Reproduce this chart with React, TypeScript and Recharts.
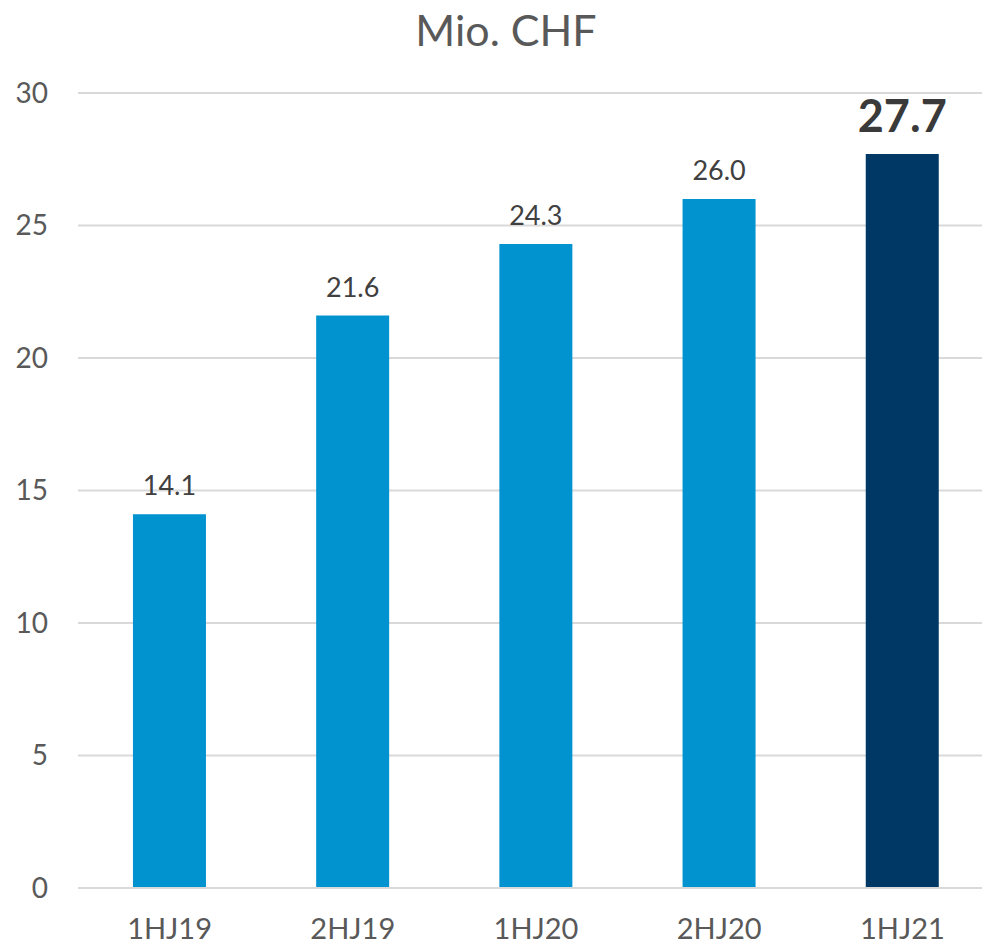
import { Bar, BarChart, CartesianGrid, Cell, LabelList, XAxis, YAxis } from "recharts"

const periods = ["1HJ19", "2HJ19", "1HJ20", "2HJ20", "1HJ21"]
const values = [14.1, 21.6, 24.3, 26.0, 27.7]
const yTicks = [0, 5, 10, 15, 20, 25, 30]

const data = periods.map((p, i) => ({ period: p, value: values[i] }))

const FONT = "Lato, 'Open Sans', sans-serif"

const renderLabel = (props: any) => {
  const { x, y, width, value, index } = props
  const last = index === values.length - 1
  return (
    <text
      x={x + width / 2}
      y={y - (last ? 22 : 19)}
      textAnchor="middle"
      fontFamily={FONT}
      fontSize={last ? 45 : 27}
      fontWeight={last ? 700 : 400}
      fill={last ? "#3a3a3a" : "#404040"}
    >
      {value.toFixed(1)}
    </text>
  )
}

export default function App() {
  return (
    <div style={{ position: "fixed", top: 0, left: 0, width: 982, height: 946, overflow: "hidden", background: "#fff" }}>
      <div
        style={{
          position: "absolute",
          top: 2,
          left: 306,
          width: 400,
          textAlign: "center",
          fontFamily: FONT,
          fontSize: 43,
          color: "#595959",
          lineHeight: "56px",
        }}
      >
        Mio. CHF
      </div>
      <BarChart
        width={994}
        height={946}
        data={data}
        margin={{ top: 93, right: 0, bottom: 0, left: 0 }}
        barCategoryGap="30%"
      >
        <CartesianGrid vertical={false} stroke="#d9d9d9" strokeWidth={2} />
        <XAxis
          dataKey="period"
          height={58}
          axisLine={{ stroke: "#d9d9d9", strokeWidth: 2 }}
          tickLine={false}
          tickMargin={24}
          tick={{ fontFamily: FONT, fontSize: 29, fill: "#595959" }}
        />
        <YAxis
          width={78}
          domain={[0, 30]}
          ticks={yTicks}
          axisLine={false}
          tickLine={false}
          tickMargin={24}
          tick={{ fontFamily: FONT, fontSize: 28, fill: "#595959" }}
        />
        <Bar dataKey="value" isAnimationActive={false}>
          {data.map((d, i) => (
            <Cell key={d.period} fill={i === data.length - 1 ? "#003865" : "#0093d0"} />
          ))}
          <LabelList dataKey="value" content={renderLabel} />
        </Bar>
      </BarChart>
    </div>
  )
}
